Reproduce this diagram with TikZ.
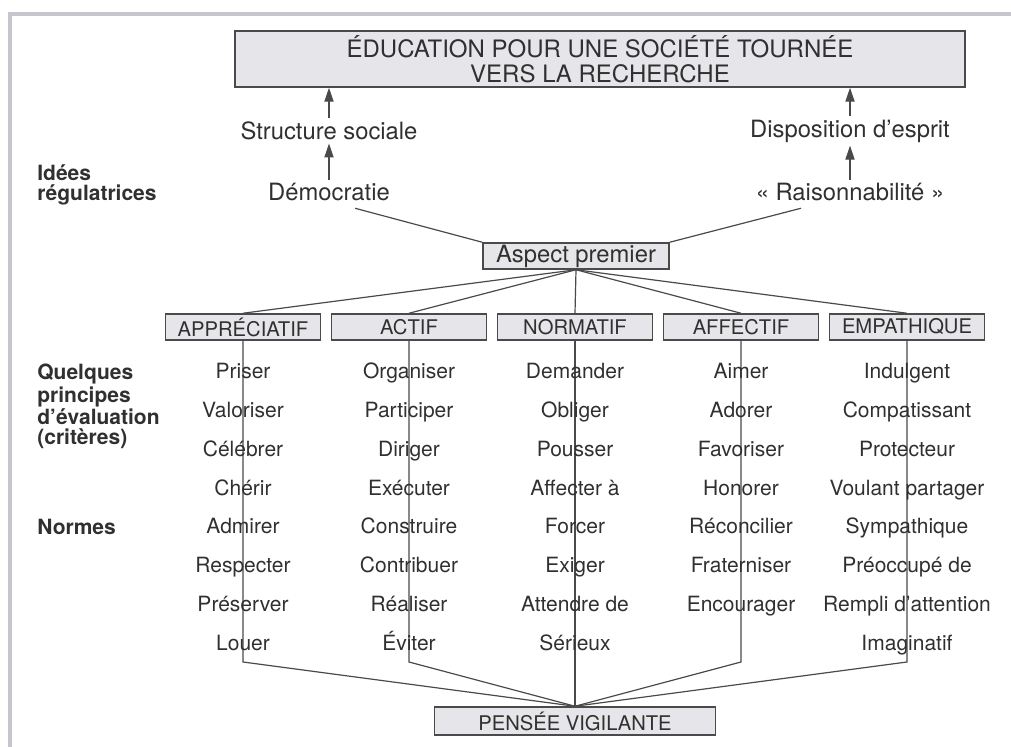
\documentclass[tikz,border=0pt]{standalone}
\usepackage{fontspec}
\setmainfont{TeX Gyre Heros}
\usetikzlibrary{arrows.meta,positioning}
\definecolor{encre}{HTML}{303030}
\definecolor{trait}{HTML}{4A4A4A}
\definecolor{fond}{HTML}{E6E6EA}
\definecolor{cadre}{HTML}{C6C6CE}
\tikzset{
  boite/.style={draw=trait, fill=fond, line width=0.75pt, inner sep=0pt, text=encre},
  cat/.style={boite, minimum width=77.5pt, minimum height=13pt, font=\fontsize{10.1}{12}\selectfont},
  mot/.style={text=encre, inner sep=0pt, font=\fontsize{10.5}{12}\selectfont, text height=7.6pt, text depth=2.2pt},
  titre/.style={text=encre, inner sep=1.5pt, font=\fontsize{11.9}{12}\selectfont},
  marge/.style={text=encre, inner sep=0pt, anchor=north west, align=left, font=\bfseries\fontsize{10.5}{10}\selectfont},
  lien/.style={draw=trait, line width=0.6pt},
  fleche/.style={lien, -{Triangle[length=7pt,width=4.6pt]}}
}
\begin{document}
\begin{tikzpicture}[x=0.5pt, y=-0.5pt, node distance=19.45pt, on grid]
\useasboundingbox (0,0) rectangle (1011,747);
\draw[cadre, line width=2.2pt] (10,747) -- (10,14) -- (1011,14);

\node[boite, minimum width=365pt, minimum height=28pt, align=center, font=\fontsize{12}{12.5}\selectfont] (edu) at (600,59) {ÉDUCATION POUR UNE SOCIÉTÉ TOURNÉE\\VERS LA RECHERCHE};
\node[titre] (struct) at (329,131) {Structure sociale};
\node[titre] (dispo) at (850,131) {Disposition d’esprit};
\node[titre] (demo) at (329,192) {Démocratie};
\node[titre] (raison) at (850,192) {«~Raisonnabilité~»};
\node[marge] (idees) at (37,164) {Idées\\régulatrices};

\draw[fleche] (struct.north) -- (struct.north |- edu.south);
\draw[fleche] (dispo.north) -- (dispo.north |- edu.south);
\draw[fleche] (demo) -- (struct);
\draw[fleche] (raison) -- (dispo);

\node[boite, minimum width=93pt, minimum height=13pt, font=\fontsize{11.9}{12}\selectfont] (aspect) at (576,256) {Aspect premier};
\draw[lien] ([xshift=13pt,yshift=-2pt]demo.south) -- (aspect.north west);
\draw[lien] ([xshift=-24.5pt,yshift=-2pt]raison.south) -- (aspect.north east);

% les cinq aspects
\node[cat] (app) at (243,327) {APPRÉCIATIF};
\node[cat, right=83pt of app] (act) {ACTIF};
\node[cat, right=83pt of act] (nor) {NORMATIF};
\node[cat, right=83pt of nor] (aff) {AFFECTIF};
\node[cat, right=83pt of aff] (emp) {EMPATHIQUE};

\draw[lien] (aspect.south) -- (app.north);
\draw[lien] (aspect.south) -- (act.north);
\draw[lien] (aspect.south) -- (nor.north);
\draw[lien] (aspect.south) -- (aff.north);
\draw[lien] (aspect.south) -- (emp.north);

\node[marge] (crit) at (37,364) {Quelques\\principes\\d’évaluation\\(critères)};
\node[marge] (normes) at (37,519) {Normes};

\node[boite, minimum width=140.5pt, minimum height=14pt, font=\fontsize{10.1}{12}\selectfont] (pv) at (575,721) {PENSÉE VIGILANTE};

\coordinate (apK) at (243,662);
\coordinate (acK) at (409,662);
\coordinate (afK) at (741,662);
\coordinate (emK) at (907,662);
\draw[lien] (app.south) -- (apK) -- (pv.north);
\draw[lien] (act.south) -- (acK) -- (pv.north);
\draw[lien] (nor.south) -- (pv.north);
\draw[lien] (aff.south) -- (afK) -- (pv.north);
\draw[lien] (emp.south) -- (emK) -- (pv.north);

% appreciatif
\node[mot, below=23pt of app] (ap1) {Priser};
\node[mot, below=of ap1] (ap2) {Valoriser};
\node[mot, below=of ap2] (ap3) {Célébrer};
\node[mot, below=of ap3] (ap4) {Chérir};
\node[mot, below=of ap4] (ap5) {Admirer};
\node[mot, below=of ap5] (ap6) {Respecter};
\node[mot, below=of ap6] (ap7) {Préserver};
\node[mot, below=of ap7] (ap8) {Louer};

% actif
\node[mot, below=23pt of act] (ac1) {Organiser};
\node[mot, below=of ac1] (ac2) {Participer};
\node[mot, below=of ac2] (ac3) {Diriger};
\node[mot, below=of ac3] (ac4) {Exécuter};
\node[mot, below=of ac4] (ac5) {Construire};
\node[mot, below=of ac5] (ac6) {Contribuer};
\node[mot, below=of ac6] (ac7) {Réaliser};
\node[mot, below=of ac7] (ac8) {Éviter};

% normatif
\node[mot, below=23pt of nor] (no1) {Demander};
\node[mot, below=of no1] (no2) {Obliger};
\node[mot, below=of no2] (no3) {Pousser};
\node[mot, below=of no3] (no4) {Affecter à};
\node[mot, below=of no4] (no5) {Forcer};
\node[mot, below=of no5] (no6) {Exiger};
\node[mot, below=of no6] (no7) {Attendre de};
\node[mot, below=of no7] (no8) {Sérieux};

% affectif
\node[mot, below=23pt of aff] (af1) {Aimer};
\node[mot, below=of af1] (af2) {Adorer};
\node[mot, below=of af2] (af3) {Favoriser};
\node[mot, below=of af3] (af4) {Honorer};
\node[mot, below=of af4] (af5) {Réconcilier};
\node[mot, below=of af5] (af6) {Fraterniser};
\node[mot, below=of af6] (af7) {Encourager};

% empathique
\node[mot, below=23pt of emp] (em1) {Indulgent};
\node[mot, below=of em1] (em2) {Compatissant};
\node[mot, below=of em2] (em3) {Protecteur};
\node[mot, below=of em3] (em4) {Voulant partager};
\node[mot, below=of em4] (em5) {Sympathique};
\node[mot, below=of em5] (em6) {Préoccupé de};
\node[mot, below=of em6] (em7) {Rempli d’attention};
\node[mot, below=of em7] (em8) {Imaginatif};
\end{tikzpicture}
\end{document}
